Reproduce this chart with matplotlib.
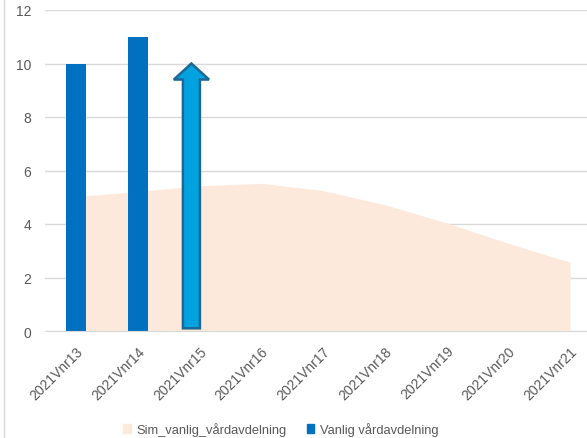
import matplotlib.pyplot as plt
from matplotlib.lines import Line2D
from matplotlib.patches import FancyArrow, Patch

plt.rcParams['font.family'] = ['Liberation Sans', 'DejaVu Sans']

# data
weeks = ['2021Vnr13', '2021Vnr14', '2021Vnr15', '2021Vnr16', '2021Vnr17',
         '2021Vnr18', '2021Vnr19', '2021Vnr20', '2021Vnr21']
sim_vanlig = [5.02, 5.22, 5.43, 5.52, 5.25, 4.72, 4.04, 3.28, 2.57]
vanlig_weeks = ['2021Vnr13', '2021Vnr14']
vanlig = [10, 11]
# pil (form) vid vecka 15
arrow_week = '2021Vnr15'
arrow_top = 10

bar_w = 0.32
x = list(range(len(weeks)))

fig = plt.figure(figsize=(5.87, 4.39), dpi=100)
ax = fig.add_axes([45 / 587, 1 - 332 / 439, 556 / 587, 321 / 439])

ax.fill_between(x, sim_vanlig, 0, color='#FCE9DC', linewidth=0, zorder=1)
bx = [weeks.index(w) for w in vanlig_weeks]
ax.bar(bx, vanlig, width=bar_w, color='#0070C0', zorder=2)

ai = weeks.index(arrow_week) - 0.13
ax.add_patch(FancyArrow(ai, 0.1, 0, arrow_top - 0.1, width=0.275, head_width=0.57,
                        head_length=0.6, length_includes_head=True,
                        facecolor='#00A3DF', edgecolor='#1B6894', linewidth=1.8, zorder=3))

ax.set_xlim(-0.5, len(weeks) - 0.5)
ax.set_ylim(0, 12)
ax.set_yticks(range(0, 13, 2))
ax.grid(axis='y', color='#D9D9D9', linewidth=1, zorder=0)
ax.set_axisbelow(True)
for s in ['top', 'right', 'left']:
    ax.spines[s].set_visible(False)
ax.spines['bottom'].set_color('#D9D9D9')
ax.tick_params(axis='both', length=0, colors='#595959', labelsize=10)
ax.tick_params(axis='y', pad=10)
ax.set_xticks(x)
ax.set_xticklabels(weeks, rotation=45, ha='right', rotation_mode='anchor')
ax.tick_params(axis='x', pad=9)

# diagramram till vänster
fig.add_artist(Line2D([4 / 587, 4 / 587], [0, 1], color='#D9D9D9', linewidth=1))

handles = [Patch(color='#FCE9DC', label='Sim_vanlig_vårdavdelning'),
           Patch(color='#0070C0', label='Vanlig vårdavdelning')]
fig.legend(handles=handles, loc='center', bbox_to_anchor=(0.478, 1 - 430 / 439), ncol=2,
           frameon=False, fontsize=9.3, handlelength=0.6, handleheight=0.6,
           handletextpad=0.4, columnspacing=1.6, labelcolor='#595959')

fig.savefig('out.png', dpi=100)
